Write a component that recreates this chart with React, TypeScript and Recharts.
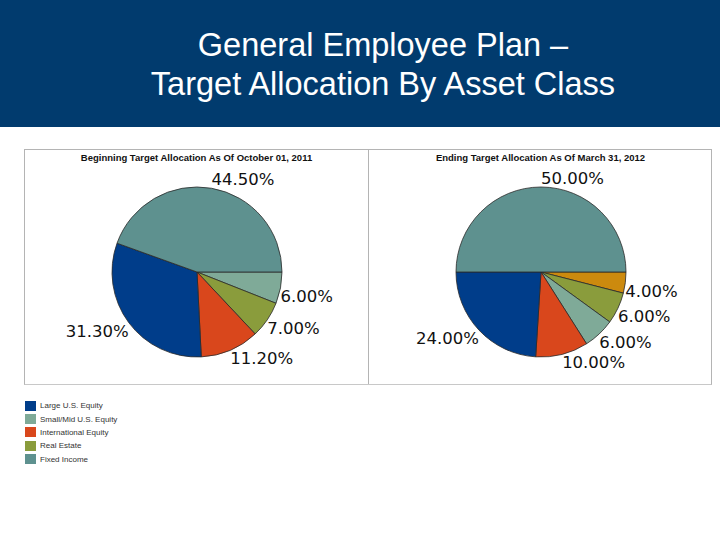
import React from 'react';
import { PieChart, Pie, Cell } from 'recharts';

// asset classes shown in the legend
const legendNames = ['Large U.S. Equity', 'Small/Mid U.S. Equity', 'International Equity', 'Real Estate', 'Fixed Income'];
const legendColors = ['#003d8a', '#7faa98', '#d9471c', '#8a9c3c', '#5e918f'];

// slices listed clockwise from 3 o'clock
const beginNames = ['Small/Mid U.S. Equity', 'Real Estate', 'International Equity', 'Large U.S. Equity', 'Fixed Income'];
const beginValues = [6.0, 7.0, 11.2, 31.3, 44.5];

const endNames = ['Other', 'Real Estate', 'Small/Mid U.S. Equity', 'International Equity', 'Large U.S. Equity', 'Fixed Income'];
const endValues = [4.0, 6.0, 6.0, 10.0, 24.0, 50.0];

const colorOf = (name: string) => {
  const i = legendNames.indexOf(name);
  return i >= 0 ? legendColors[i] : '#cc8a0e';
};

const RAD = Math.PI / 180;

const renderLabel = (props: any) => {
  const { cx, cy, midAngle, outerRadius, value } = props;
  const x = cx + outerRadius * Math.cos(-midAngle * RAD);
  const y = cy + outerRadius * Math.sin(-midAngle * RAD);
  const c = Math.cos(-midAngle * RAD);
  const below = Math.sin(-midAngle * RAD) > 0;
  return (
    <text
      x={x}
      y={below ? y + 14 : y - 3}
      textAnchor={c >= -0.3 ? 'start' : 'end'}
      fill="#111"
      fontSize={16.5}
      fontFamily="DejaVu Sans, Verdana, sans-serif"
    >
      {value.toFixed(2)}%
    </text>
  );
};

const Panel = ({ title, names, values }: { title: string; names: string[]; values: number[] }) => {
  const data = names.map((n, i) => ({ name: n, value: values[i] }));
  return (
    <div style={{ position: 'relative', width: 343, height: 234 }}>
      <div
        style={{
          position: 'absolute', top: 2, left: 0, width: 343, textAlign: 'center',
          fontFamily: 'Liberation Sans, Arial, sans-serif', fontWeight: 'bold', fontSize: 9.5, color: '#111',
        }}
      >
        {title}
      </div>
      <PieChart width={343} height={234} margin={{ top: 0, right: 0, bottom: 0, left: 0 }}>
        <Pie
          data={data}
          dataKey="value"
          cx={172}
          cy={122}
          outerRadius={85}
          startAngle={0}
          endAngle={-360}
          stroke="#2a2a2a"
          strokeWidth={0.8}
          label={renderLabel}
          labelLine={false}
          isAnimationActive={false}
        >
          {data.map((d, i) => (
            <Cell key={`cell-${i}`} fill={colorOf(d.name)} />
          ))}
        </Pie>
      </PieChart>
    </div>
  );
};

export default function App() {
  return (
    <div style={{ position: 'absolute', left: 0, top: 0, width: 720, height: 540, background: '#fff', overflow: 'hidden' }}>
      {/* title band */}
      <div
        style={{
          position: 'absolute', left: 0, top: 0, width: 720, height: 127, background: '#013b6e', color: '#fff',
          fontFamily: 'Liberation Sans, Arial, sans-serif', fontSize: 32.5, lineHeight: '39px', textAlign: 'center',
          boxSizing: 'border-box', paddingTop: 26, paddingLeft: 46,
        }}
      >
        General Employee Plan –<br />Target Allocation By Asset Class
      </div>

      {/* two chart panels */}
      <div
        style={{
          position: 'absolute', left: 24, top: 149, width: 686, height: 234, border: '1px solid #b4b4b4',
          borderBottom: '1px solid #c8c8c8', display: 'flex',
        }}
      >
        <div style={{ borderRight: '1px solid #b4b4b4' }}>
          <Panel title="Beginning Target Allocation As Of October 01, 2011" names={beginNames} values={beginValues} />
        </div>
        <Panel title="Ending Target Allocation As Of March 31, 2012" names={endNames} values={endValues} />
      </div>

      {/* legend */}
      <div style={{ position: 'absolute', left: 25, top: 399, fontFamily: 'Liberation Sans, Arial, sans-serif', fontSize: 8, color: '#333' }}>
        {legendNames.map((n, i) => (
          <div key={n} style={{ display: 'flex', alignItems: 'center', height: 13.4 }}>
            <div style={{ width: 11, height: 10, background: legendColors[i], marginRight: 4 }} />
            <span>{n}</span>
          </div>
        ))}
      </div>
    </div>
  );
}
